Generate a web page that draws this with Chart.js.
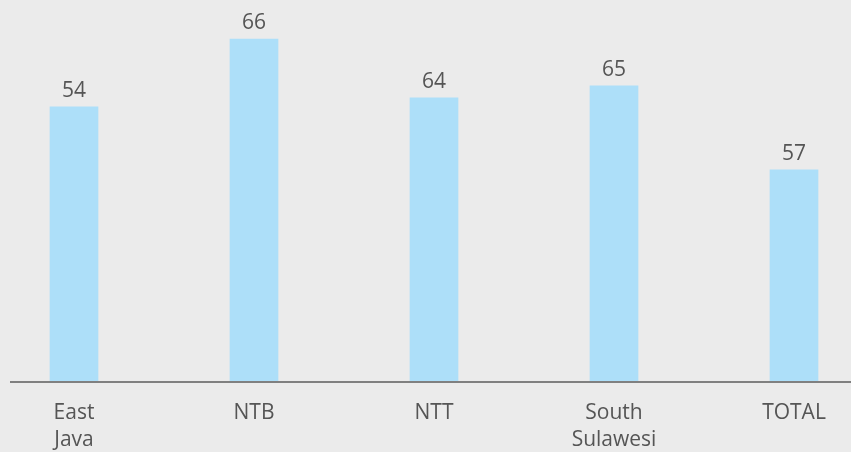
<!DOCTYPE html>
<html>
<head>
<meta charset="utf-8">
<script src="https://cdn.jsdelivr.net/npm/chart.js@4/dist/chart.umd.min.js"></script>
<style>
  html, body { margin: 0; padding: 0; background: #ebebeb; }
  canvas { display: block; }
</style>
</head>
<body>
<canvas id="regionChart" width="851" height="452"></canvas>
<script>
// categories and values
const regions = [['East', 'Java'], 'NTB', 'NTT', ['South', 'Sulawesi'], 'TOTAL'];
const shownValues = [54, 66, 64, 65, 57];          // numbers printed above bars
const barHeights = [60.9, 76.0, 62.9, 65.6, 46.9];  // bar heights as drawn (not proportional to labels)
const yMax = 80;

const textColor = '#555555';
const fontFamily = "'Open Sans', 'Noto Sans', sans-serif";

// value labels above bars + baseline across the full width
const barLabels = {
    id: 'barLabels',
    afterDatasetsDraw(chart) {
        const ctx = chart.ctx;
        const meta = chart.getDatasetMeta(0);
        ctx.save();
        ctx.fillStyle = textColor;
        ctx.font = '21px ' + fontFamily;
        ctx.textAlign = 'center';
        ctx.textBaseline = 'alphabetic';
        meta.data.forEach((bar, i) => {
            ctx.fillText(String(shownValues[i]), bar.x, bar.y - 10);
        });
        // baseline
        ctx.strokeStyle = '#808080';
        ctx.lineWidth = 2;
        ctx.beginPath();
        ctx.moveTo(10, chart.chartArea.bottom + 1);
        ctx.lineTo(chart.width, chart.chartArea.bottom + 1);
        ctx.stroke();
        ctx.restore();
    }
};

const ctx = document.getElementById('regionChart').getContext('2d');
const myChart = new Chart(ctx, {
    type: 'bar',
    data: {
        labels: regions,
        datasets: [{
            data: barHeights,
            backgroundColor: '#addff9',
            barThickness: 48,
            clip: false
        }]
    },
    options: {
        responsive: false,
        animation: false,
        layout: { padding: { top: 21, left: 74, right: 57, bottom: 0 } },
        plugins: {
            legend: { display: false },
            tooltip: { enabled: false }
        },
        scales: {
            x: {
                offset: false,
                grid: { display: false, drawTicks: false },
                border: { display: false },
                ticks: {
                    color: textColor,
                    font: { family: fontFamily, size: 21, lineHeight: 1.3 },
                    padding: 18,
                    maxRotation: 0,
                    autoSkip: false
                },
                afterFit: (scale) => { scale.height = 71; }
            },
            y: {
                display: false,
                min: 0,
                max: yMax
            }
        }
    },
    plugins: [barLabels]
});
</script>
</body>
</html>
